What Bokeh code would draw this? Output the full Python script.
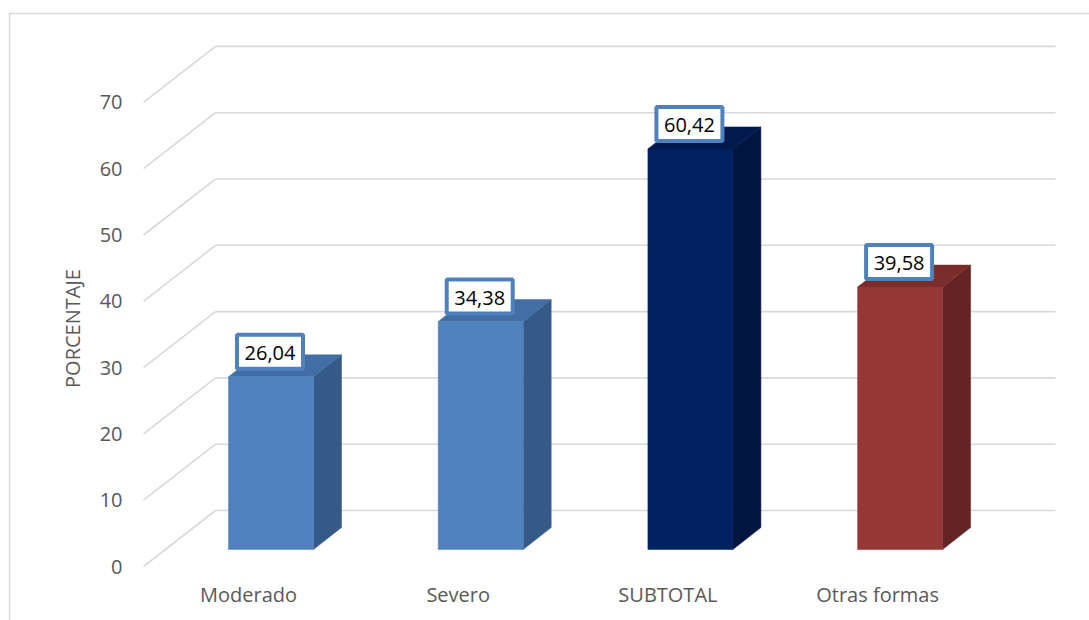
import math
from bokeh.plotting import figure
from bokeh.models import Range1d, ColumnDataSource
from bokeh.core.properties import value
from bokeh.embed import file_html
from bokeh.resources import INLINE

# ---- data ----
categories = ["Moderado", "Severo", "SUBTOTAL", "Otras formas"]
values = [26.04, 34.38, 60.42, 39.58]
value_labels = ["26,04", "34,38", "60,42", "39,58"]
y_ticks = [0, 10, 20, 30, 40, 50, 60, 70]
y_title = "PORCENTAJE"

# ---- styles ----
front_colors = ["#4f81bd", "#4f81bd", "#002060", "#953735"]
top_colors = ["#416ea4", "#416ea4", "#001a4e", "#7a2d2b"]
side_colors = ["#365a88", "#365a88", "#001641", "#632423"]
TXT = "#595959"
GRID = "#d9d9d9"
FONT = "Open Sans"
FS = "20px"

W, H = 1089, 620
PXU = 209.7   # px per category unit
PYU = 6.63    # px per percent
X0PX = 270.5  # px of first category center
Y0PX = 549.0  # px of value 0 at bar plane

def xi(px):
    return (px - X0PX) / PXU

def yv(py):
    return (Y0PX - py) / PYU

p = figure(width=W, height=H, output_backend="svg", toolbar_location=None,
           x_range=Range1d(xi(0), xi(W)), y_range=Range1d(yv(H), yv(0)),
           x_axis_type=None, y_axis_type=None, min_border=0,
           min_border_left=0, min_border_right=0, min_border_top=0, min_border_bottom=0)
p.grid.visible = False
p.outline_line_color = None
p.background_fill_color = "white"
p.border_fill_color = "white"

# depth offsets (in data units)
FRONT_DY = -17 / PYU
BACK_DY = 39 / PYU
LEFT_FRONT_X = xi(143)
LEFT_BACK_X = xi(215)
RIGHT_BACK_X = xi(1055)

# chart area border
bx, by = xi(9), yv(13)
p.line([bx, bx, xi(W + 5)], [yv(H + 5), by, by], line_color=GRID, line_width=1.5)

# gridlines
gx0, gy0, gx1, gy1 = [], [], [], []
for t in y_ticks:
    gx0 += [LEFT_FRONT_X, LEFT_BACK_X]
    gy0 += [t + FRONT_DY, t + BACK_DY]
    gx1 += [LEFT_BACK_X, RIGHT_BACK_X]
    gy1 += [t + BACK_DY, t + BACK_DY]
p.segment(gx0, gy0, gx1, gy1, line_color=GRID, line_width=1.6)

# bars (3D)
HW = 42.5 / PXU
DXB = 28 / PXU
DYB = 22 / PYU
xs = list(range(len(categories)))

side_xs, side_ys, top_xs, top_ys = [], [], [], []
for i, v in zip(xs, values):
    r = i + HW
    l = i - HW
    side_xs.append([r, r + DXB, r + DXB, r])
    side_ys.append([0, DYB, v + DYB, v])
    top_xs.append([l, r, r + DXB, l + DXB])
    top_ys.append([v, v, v + DYB, v + DYB])

p.patches(side_xs, side_ys, fill_color=side_colors, line_color=side_colors, line_width=0.5)
p.patches(top_xs, top_ys, fill_color=top_colors, line_color=top_colors, line_width=0.5)
p.quad(left=[i - HW for i in xs], right=[i + HW for i in xs], bottom=[0] * len(xs), top=values,
       fill_color=front_colors, line_color=front_colors, line_width=0.5)

# data labels
LBL_DY = 25 / PYU
lsrc = ColumnDataSource(dict(x=[i - 1 / PXU for i in xs], y=[v + LBL_DY for v in values], t=value_labels))
p.rect(x="x", y="y", width=66, height=34, width_units="screen", height_units="screen",
       fill_color="white", line_color="#4f81bd", line_width=4, source=lsrc)
p.text(x="x", y="y", text="t", text_align="center", text_baseline="middle",
       text_font=value(FONT), text_font_size=FS, text_color="black", source=lsrc, y_offset=1)

# x category labels
p.text(x=[i - 22.5 / PXU for i in xs], y=[FRONT_DY - 28 / PYU] * len(xs), text=categories,
       text_align="center", text_baseline="middle", text_font=value(FONT),
       text_font_size=FS, text_color=TXT)

# y tick labels
p.text(x=[xi(122)] * len(y_ticks), y=[t + FRONT_DY for t in y_ticks], text=[str(t) for t in y_ticks],
       text_align="right", text_baseline="middle", text_font=value(FONT),
       text_font_size=FS, text_color=TXT)

# y title
p.text(x=[xi(72)], y=[yv(328)], text=[y_title], angle=math.pi / 2,
       text_align="center", text_baseline="middle", text_font=value(FONT),
       text_font_size=FS, text_color=TXT)

open("out.html", "w").write(file_html(p, INLINE))
